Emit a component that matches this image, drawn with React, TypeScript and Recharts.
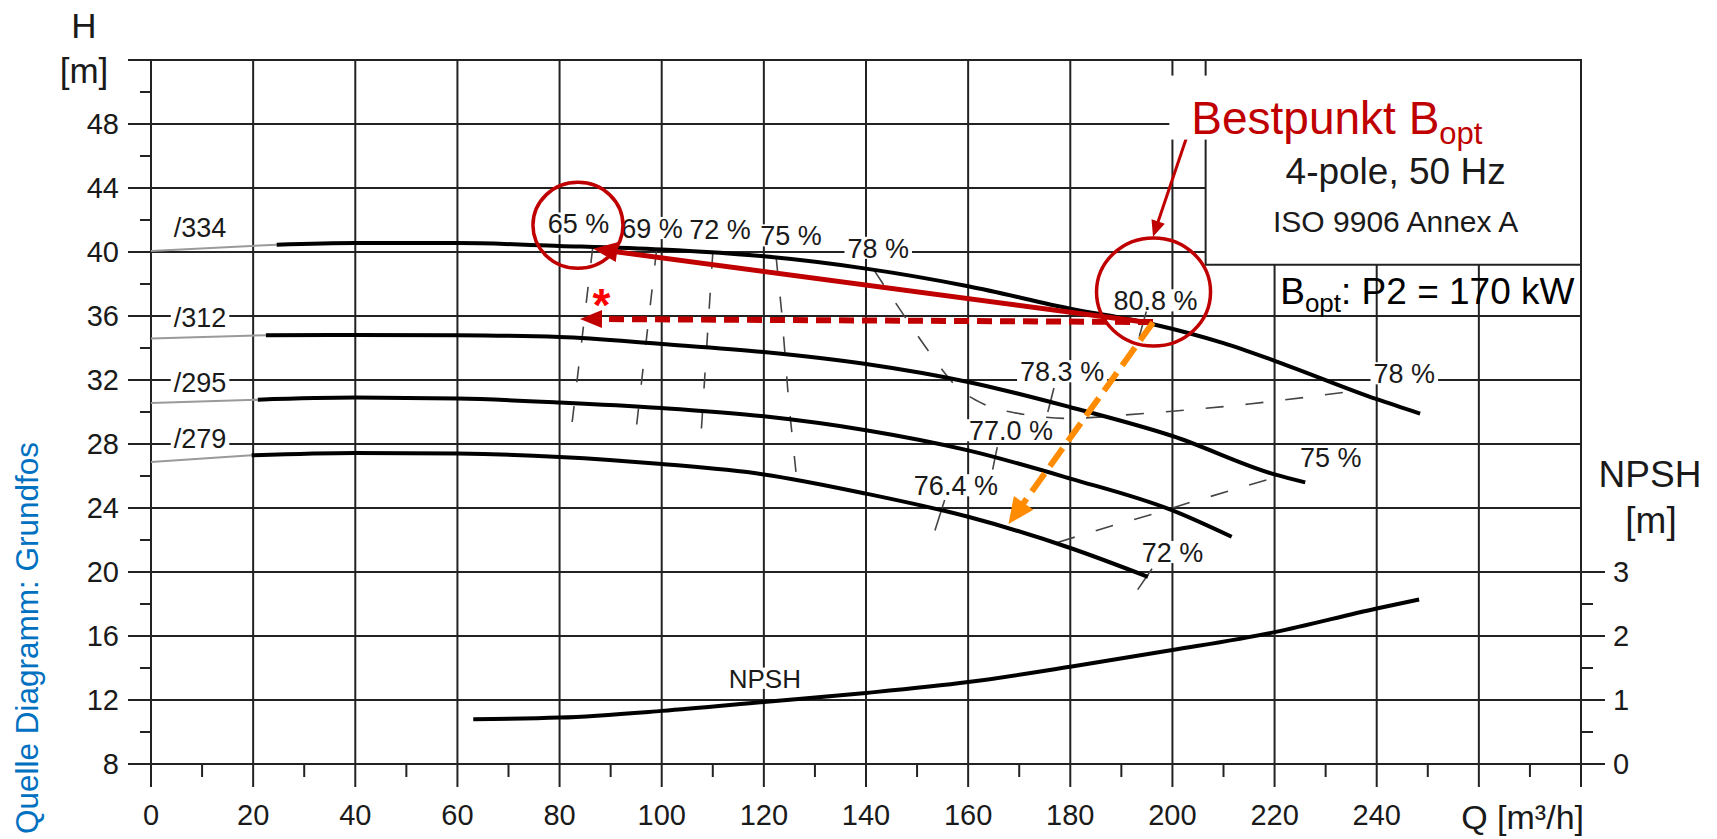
import React from 'react';
import { ComposedChart, Line, XAxis, YAxis, CartesianGrid, ReferenceArea, ReferenceDot } from 'recharts';

const FONT = "'Liberation Sans', Arial, Helvetica, sans-serif";
const INK = '#1a1a1a';
const GRID = '#222';
const RED = '#c00000';
const ORANGE = '#ff8c00';

// axes
const Q_TICKS = [0, 10, 20, 30, 40, 50, 60, 70, 80, 90, 100, 110, 120, 130, 140, 150, 160, 170, 180, 190, 200, 210, 220, 230, 240, 250, 260, 270, 280];
const Q_GRID = [0, 20, 40, 60, 80, 100, 120, 140, 160, 180, 200, 220, 240, 260, 280];
const H_TICKS = [8, 10, 12, 14, 16, 18, 20, 22, 24, 26, 28, 30, 32, 34, 36, 38, 40, 42, 44, 46, 48, 50, 52];
const H_GRID = [8, 12, 16, 20, 24, 28, 32, 36, 40, 44, 48, 52];
const NPSH_TICKS = [0, 0.5, 1, 1.5, 2, 2.5, 3];

// Q-H curves, impeller diameters (x = Q m3/h, y = H m)
const h334 = [
  { x: 24.6, y: 40.46 }, { x: 40, y: 40.56 }, { x: 60, y: 40.56 }, { x: 80, y: 40.38 }, { x: 100, y: 40.15 },
  { x: 120, y: 39.73 }, { x: 140, y: 38.96 }, { x: 160, y: 37.86 }, { x: 180, y: 36.46 }, { x: 196, y: 35.5 },
  { x: 210, y: 34.3 }, { x: 220, y: 33.2 }, { x: 240, y: 30.8 }, { x: 248.5, y: 29.9 },
];
const h312 = [
  { x: 22.5, y: 34.8 }, { x: 40, y: 34.82 }, { x: 60, y: 34.8 }, { x: 80, y: 34.69 }, { x: 100, y: 34.25 },
  { x: 120, y: 33.75 }, { x: 140, y: 33.0 }, { x: 160, y: 31.88 }, { x: 180, y: 30.3 }, { x: 200, y: 28.5 },
  { x: 220, y: 26.1 }, { x: 226, y: 25.6 },
];
const h295 = [
  { x: 20.9, y: 30.77 }, { x: 40, y: 30.9 }, { x: 60, y: 30.84 }, { x: 80, y: 30.6 }, { x: 100, y: 30.25 },
  { x: 120, y: 29.73 }, { x: 140, y: 28.86 }, { x: 160, y: 27.6 }, { x: 180, y: 25.84 }, { x: 200, y: 23.85 },
  { x: 211.6, y: 22.2 },
];
const h279 = [
  { x: 19.7, y: 27.29 }, { x: 40, y: 27.44 }, { x: 60, y: 27.4 }, { x: 80, y: 27.19 }, { x: 100, y: 26.75 },
  { x: 120, y: 26.1 }, { x: 140, y: 24.9 }, { x: 160, y: 23.45 }, { x: 180, y: 21.5 }, { x: 195.2, y: 19.7 },
];
// thin grey low-flow parts
const h334Low = [{ x: 0, y: 40.06 }, { x: 24.6, y: 40.46 }];
const h312Low = [{ x: 0, y: 34.59 }, { x: 22.5, y: 34.8 }];
const h295Low = [{ x: 0, y: 30.56 }, { x: 20.9, y: 30.77 }];
const h279Low = [{ x: 0, y: 26.87 }, { x: 19.7, y: 27.29 }];

// NPSH curve (right axis, m)
const npsh = [
  { x: 63.1, y: 0.7 }, { x: 80, y: 0.725 }, { x: 100, y: 0.83 }, { x: 120, y: 0.97 }, { x: 140, y: 1.11 },
  { x: 160, y: 1.28 }, { x: 180, y: 1.52 }, { x: 200, y: 1.78 }, { x: 220, y: 2.06 }, { x: 240, y: 2.43 },
  { x: 248.3, y: 2.57 },
];

// efficiency iso-lines
const eff65 = [{ x: 86.5, y: 40.3 }, { x: 82, y: 28.1 }];
const eff69 = [{ x: 99, y: 40.15 }, { x: 94.7, y: 28.1 }];
const eff72 = [{ x: 110, y: 39.95 }, { x: 107.6, y: 28.1 }];
const eff75 = [{ x: 122.4, y: 39.7 }, { x: 123.5, y: 36.2 }, { x: 124.9, y: 30.5 }, { x: 126.4, y: 25.9 }];
const eff78 = [
  { x: 141.5, y: 38.9 }, { x: 147.3, y: 36.1 }, { x: 152.5, y: 33.7 }, { x: 157.7, y: 31.6 }, { x: 163, y: 30.5 },
  { x: 170, y: 29.9 }, { x: 180, y: 29.6 }, { x: 190, y: 29.8 }, { x: 200, y: 30.05 }, { x: 215, y: 30.5 }, { x: 234, y: 31.25 },
];
const eff75R = [
  { x: 177.5, y: 21.85 }, { x: 187.7, y: 22.85 }, { x: 196.5, y: 23.65 }, { x: 204, y: 24.4 }, { x: 212.6, y: 25.2 }, { x: 222, y: 26.1 },
];
const tick808 = [{ x: 193.5, y: 34.7 }, { x: 194.9, y: 36.3 }];
const tick783 = [{ x: 175.6, y: 30.0 }, { x: 176.8, y: 31.5 }];
const tick770 = [{ x: 164.8, y: 26.4 }, { x: 165.7, y: 27.8 }];
const tick764 = [{ x: 153.5, y: 22.6 }, { x: 155.4, y: 24.5 }];
const tick72 = [{ x: 193.2, y: 18.9 }, { x: 196, y: 20.2 }];

const effLabels = [
  { x: 83.7, y: 41.78, text: '65 %' },
  { x: 98.1, y: 41.5, text: '69 %' },
  { x: 111.4, y: 41.4, text: '72 %' },
  { x: 125.3, y: 41.04, text: '75 %' },
  { x: 142.4, y: 40.26, text: '78 %' },
  { x: 196.7, y: 36.98, text: '80.8 %' },
  { x: 178.4, y: 32.55, text: '78.3 %' },
  { x: 168.4, y: 28.86, text: '77.0 %' },
  { x: 157.6, y: 25.42, text: '76.4 %' },
  { x: 200.0, y: 21.25, text: '72 %' },
  { x: 245.4, y: 32.42, text: '78 %' },
  { x: 231.0, y: 27.19, text: '75 %' },
];
const curveLabels = [
  { x: 9.6, y: 41.56, text: '/334' },
  { x: 9.6, y: 35.94, text: '/312' },
  { x: 9.6, y: 31.88, text: '/295' },
  { x: 9.6, y: 28.34, text: '/279' },
];
const npshLabel = { x: 120.2, y: 13.36 };

// annotations
const arrowBest = [{ x: 195.9, y: 35.56 }, { x: 86.6, y: 40.2 }];
const arrowLevel = [{ x: 196.2, y: 35.62 }, { x: 84, y: 35.82 }];
const arrowDown = [{ x: 196.2, y: 35.6 }, { x: 167.9, y: 23.0 }];
const arrowPointer = [{ x: 202.7, y: 47.1 }, { x: 196.2, y: 40.96 }];
const circle65 = { x: 83.6, y: 41.67 };
const circleBest = { x: 196.3, y: 37.5 };
const starAt = { x: 88.2, y: 37.3 };
const bestTextAt = { x: 203.7, y: 47.4 };
const poleTextAt = { x: 243.7, y: 44.27 };
const isoTextAt = { x: 243.7, y: 41.25 };
const powerTextAt = { x: 221.1, y: 36.78 };
const infoBox = { x1: 206.5, x2: 280, y1: 39.2, y2: 52 };

const CHAR_W: Record<string, number> = { ' ': 0.278, '%': 0.889, '.': 0.278, '/': 0.278, N: 0.722, P: 0.667, S: 0.667, H: 0.722 };
const textW = (s: string, fs: number) => s.split('').reduce((a, c) => a + (CHAR_W[c] ?? 0.556), 0) * fs;

const boxLabel = (text: string, fs: number) => (p: any) => {
  const w = textW(text, fs) + 6;
  const h = fs * 0.82;
  return (
    <g>
      <rect x={p.cx - w / 2} y={p.cy - h / 2} width={w} height={h} fill="#fff" />
      <text x={p.cx} y={p.cy} dy={fs * 0.36} textAnchor="middle" fontSize={fs} fontFamily={FONT} fill={INK}>{text}</text>
    </g>
  );
};

const arrowDot = (color: string, width: number, dash: string | undefined, len: number, half: number) => {
  let prev = { cx: 0, cy: 0 };
  return (p: any) => {
    if (p.index === 0) {
      prev = { cx: p.cx, cy: p.cy };
      return <g key="a0" />;
    }
    const a = Math.atan2(p.cy - prev.cy, p.cx - prev.cx);
    const c = Math.cos(a);
    const s = Math.sin(a);
    const bx = p.cx - len * c;
    const by = p.cy - len * s;
    return (
      <g key="a1">
        <line x1={prev.cx} y1={prev.cy} x2={bx + c} y2={by + s} stroke={color} strokeWidth={width} strokeDasharray={dash} />
        <polygon points={`${p.cx},${p.cy} ${bx - s * half},${by + c * half} ${bx + s * half},${by - c * half}`} fill={color} />
      </g>
    );
  };
};

const qTick = (p: any) => {
  const v = Number(p.payload.value);
  const major = v % 20 === 0;
  return (
    <g>
      <line x1={p.x} x2={p.x} y1={p.y} y2={p.y + (major ? 23 : 13)} stroke={GRID} strokeWidth={2} />
      {major && v <= 240 && (
        <text x={p.x} y={p.y + 61} textAnchor="middle" fontSize={29} fontFamily={FONT} fill={INK}>{v}</text>
      )}
    </g>
  );
};

const hTick = (p: any) => {
  const v = Number(p.payload.value);
  const major = (v - 8) % 4 === 0;
  return (
    <g>
      <line x1={p.x - (major ? 23 : 11)} x2={p.x} y1={p.y} y2={p.y} stroke={GRID} strokeWidth={2} />
      {major && v <= 48 && (
        <text x={p.x - 32} y={p.y} dy={10.4} textAnchor="end" fontSize={29} fontFamily={FONT} fill={INK}>{v}</text>
      )}
    </g>
  );
};

const npshTick = (p: any) => {
  const v = Number(p.payload.value);
  const major = Number.isInteger(v);
  return (
    <g>
      <line x1={p.x} x2={p.x + (major ? 24 : 12)} y1={p.y} y2={p.y} stroke={GRID} strokeWidth={2} />
      {major && (
        <text x={p.x + 32} y={p.y} dy={10.4} textAnchor="start" fontSize={29} fontFamily={FONT} fill={INK}>{v}</text>
      )}
    </g>
  );
};

export default function App() {
  const headCurves = [h334, h312, h295, h279];
  const lowCurves = [h334Low, h312Low, h295Low, h279Low];
  const effDashed = [eff65, eff69, eff72, eff75];
  const effTicks = [tick808, tick783, tick770, tick764, tick72];

  return (
    <div style={{ position: 'absolute', left: 0, top: 0, width: 1717, height: 839, background: '#fff' }}>
      <ComposedChart width={1717} height={839} margin={{ top: 60, right: 0, bottom: 0, left: 0 }}>
        <CartesianGrid horizontalValues={H_GRID} verticalValues={Q_GRID} stroke={GRID} strokeWidth={2} />
        <XAxis dataKey="x" type="number" domain={[0, 280]} ticks={Q_TICKS} interval={0} tickSize={0} tickMargin={0}
          axisLine={false} tickLine={false} tick={qTick} height={75} allowDataOverflow />
        <YAxis type="number" domain={[8, 52]} ticks={H_TICKS} interval={0} tickSize={0} tickMargin={0}
          axisLine={false} tickLine={false} tick={hTick} width={151} allowDataOverflow />
        <YAxis yAxisId="npsh" orientation="right" type="number" domain={[0, 11]} ticks={NPSH_TICKS} interval={0}
          tickSize={0} tickMargin={0} axisLine={false} tickLine={false} tick={npshTick} width={136} allowDataOverflow />

        <ReferenceArea x1={infoBox.x1} x2={infoBox.x2} y1={infoBox.y1} y2={infoBox.y2} fill="#fff" fillOpacity={1}
          stroke={GRID} strokeWidth={2} ifOverflow="visible" />

        {effDashed.map((d, i) => (
          <Line key={`e${i}`} data={d} dataKey="y" type="linear" stroke="#444" strokeWidth={1.6} strokeDasharray="16 24"
            dot={false} activeDot={false} isAnimationActive={false} />
        ))}
        <Line data={eff78} dataKey="y" type="monotone" stroke="#444" strokeWidth={1.6} strokeDasharray="18 22"
          dot={false} activeDot={false} isAnimationActive={false} />
        <Line data={eff75R} dataKey="y" type="linear" stroke="#444" strokeWidth={1.6} strokeDasharray="18 22"
          dot={false} activeDot={false} isAnimationActive={false} />
        {effTicks.map((d, i) => (
          <Line key={`t${i}`} data={d} dataKey="y" type="linear" stroke="#444" strokeWidth={1.6}
            dot={false} activeDot={false} isAnimationActive={false} />
        ))}

        {lowCurves.map((d, i) => (
          <Line key={`l${i}`} data={d} dataKey="y" type="linear" stroke="#9a9a9a" strokeWidth={2}
            dot={false} activeDot={false} isAnimationActive={false} />
        ))}
        {headCurves.map((d, i) => (
          <Line key={`h${i}`} data={d} dataKey="y" type="monotone" stroke="#000" strokeWidth={4}
            dot={false} activeDot={false} isAnimationActive={false} />
        ))}
        <Line yAxisId="npsh" data={npsh} dataKey="y" type="monotone" stroke="#000" strokeWidth={4}
          dot={false} activeDot={false} isAnimationActive={false} />

        <Line data={arrowBest} dataKey="y" stroke="none" dot={arrowDot(RED, 5, undefined, 24, 10)} activeDot={false} isAnimationActive={false} />
        <Line data={arrowLevel} dataKey="y" stroke="none" dot={arrowDot(RED, 6, '15 8', 22, 9)} activeDot={false} isAnimationActive={false} />
        <Line data={arrowDown} dataKey="y" stroke="none" dot={arrowDot(ORANGE, 6, '22 9', 26, 12)} activeDot={false} isAnimationActive={false} />
        <Line data={arrowPointer} dataKey="y" stroke="none" dot={arrowDot(RED, 3, undefined, 16, 7)} activeDot={false} isAnimationActive={false} />

        {effLabels.map((l, i) => (
          <ReferenceDot key={`el${i}`} x={l.x} y={l.y} r={0} ifOverflow="visible" shape={boxLabel(l.text, 27)} />
        ))}
        {curveLabels.map((l, i) => (
          <ReferenceDot key={`cl${i}`} x={l.x} y={l.y} r={0} ifOverflow="visible" shape={boxLabel(l.text, 27)} />
        ))}
        <ReferenceDot x={npshLabel.x} y={npshLabel.y} r={0} ifOverflow="visible" shape={boxLabel('NPSH', 26)} />

        <ReferenceDot x={circle65.x} y={circle65.y} r={0} ifOverflow="visible"
          shape={(p: any) => <ellipse cx={p.cx} cy={p.cy} rx={45} ry={43} fill="none" stroke={RED} strokeWidth={3.5} />} />
        <ReferenceDot x={circleBest.x} y={circleBest.y} r={0} ifOverflow="visible"
          shape={(p: any) => <ellipse cx={p.cx} cy={p.cy} rx={57} ry={54} fill="none" stroke={RED} strokeWidth={3.5} />} />
        <ReferenceDot x={starAt.x} y={starAt.y} r={0} ifOverflow="visible"
          shape={(p: any) => (
            <text x={p.cx} y={p.cy} dy={26} textAnchor="middle" fontSize={46} fontWeight="bold" fontFamily={FONT} fill="#ff0000">*</text>
          )} />

        <ReferenceDot x={bestTextAt.x} y={bestTextAt.y} r={0} ifOverflow="visible"
          shape={(p: any) => (
            <g>
              <rect x={p.cx - 22} y={p.cy - 58} width={330} height={64} fill="#fff" />
              <text x={p.cx} y={p.cy} fontSize={46} fontFamily={FONT} fill={RED}>
                Bestpunkt B<tspan fontSize={31} dy={10}>opt</tspan>
              </text>
            </g>
          )} />
        <ReferenceDot x={poleTextAt.x} y={poleTextAt.y} r={0} ifOverflow="visible"
          shape={(p: any) => (
            <text x={p.cx} y={p.cy} textAnchor="middle" fontSize={37} fontFamily={FONT} fill={INK}>4-pole, 50 Hz</text>
          )} />
        <ReferenceDot x={isoTextAt.x} y={isoTextAt.y} r={0} ifOverflow="visible"
          shape={(p: any) => (
            <text x={p.cx} y={p.cy} textAnchor="middle" fontSize={30} fontFamily={FONT} fill={INK}>ISO 9906 Annex A</text>
          )} />
        <ReferenceDot x={powerTextAt.x} y={powerTextAt.y} r={0} ifOverflow="visible"
          shape={(p: any) => (
            <text x={p.cx} y={p.cy} fontSize={37} fontFamily={FONT} fill="#000">
              B<tspan fontSize={26} dy={8}>opt</tspan><tspan dy={-8}>: P2 = 170 kW</tspan>
            </text>
          )} />
      </ComposedChart>

      <svg width={1717} height={839} style={{ position: 'absolute', left: 0, top: 0, pointerEvents: 'none' }} fontFamily={FONT}>
        <text x={84} y={38} fontSize={35} textAnchor="middle" fill={INK}>H</text>
        <text x={84} y={83} fontSize={35} textAnchor="middle" fill={INK}>[m]</text>
        <text x={1650} y={487} fontSize={37} textAnchor="middle" fill={INK}>NPSH</text>
        <text x={1651} y={533} fontSize={37} textAnchor="middle" fill={INK}>[m]</text>
        <text x={1584} y={829} fontSize={34} textAnchor="end" fill={INK}>Q [m³/h]</text>
        <text transform="translate(38,638) rotate(-90)" fontSize={31.5} textAnchor="middle" fill="#0070c0">Quelle Diagramm: Grundfos</text>
      </svg>
    </div>
  );
}
